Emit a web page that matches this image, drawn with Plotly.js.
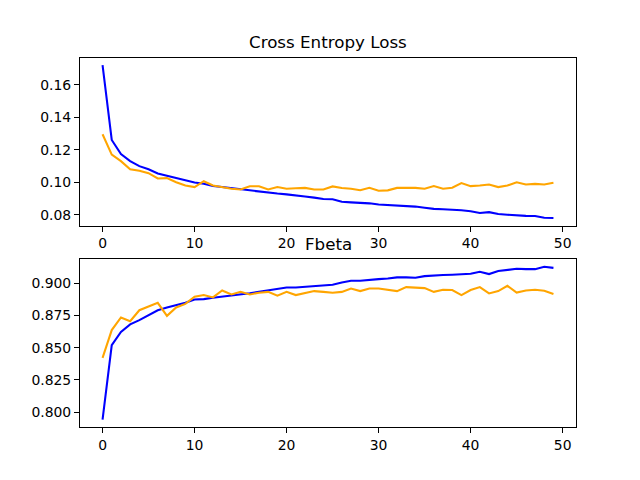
<!DOCTYPE html>
<html>
<head>
<meta charset="utf-8">
<script src="https://cdn.plot.ly/plotly-3.0.1.min.js"></script>
<style>html,body{margin:0;padding:0;background:#fff}#chart{width:640px;height:480px}</style>
</head>
<body>
<div id="chart"></div>
<script>
const epochs = Array.from({length: 50}, (_, i) => i);
const lossTrain = [0.172,0.126,0.1173,0.113,0.1099,0.108,0.1054,0.104,0.1025,0.1012,
  0.0998,0.099,0.0977,0.097,0.0963,0.0955,0.095,0.094,0.0937,0.093,
  0.0925,0.092,0.0912,0.0905,0.0897,0.0895,0.0880,0.0876,0.0874,0.0870,
  0.0863,0.0860,0.0855,0.0853,0.0850,0.0843,0.0836,0.0834,0.0832,0.0827,
  0.0821,0.0811,0.0816,0.0804,0.0800,0.0795,0.0793,0.0792,0.0781,0.0780];
const lossTest = [0.1295,0.117,0.113,0.108,0.107,0.1056,0.1023,0.1025,0.100,0.098,
  0.097,0.1006,0.098,0.097,0.096,0.0955,0.0975,0.0975,0.0955,0.097,
  0.096,0.0963,0.0965,0.0955,0.0955,0.0974,0.0964,0.096,0.0951,0.0966,
  0.0948,0.095,0.0965,0.0965,0.0965,0.096,0.0976,0.096,0.0966,0.0995,
  0.0976,0.098,0.0986,0.097,0.098,0.100,0.0986,0.099,0.0986,0.0997];
const fbetaTrain = [0.7943,0.852,0.8622,0.868,0.8713,0.8752,0.879,0.8811,0.8829,0.8847,
  0.8873,0.8876,0.8886,0.8894,0.8907,0.8915,0.8922,0.8933,0.8943,0.8953,
  0.8966,0.8966,0.8971,0.8977,0.8984,0.8987,0.9005,0.9018,0.9018,0.9026,
  0.9031,0.9036,0.9044,0.9044,0.9042,0.9054,0.906,0.9062,0.9065,0.9067,
  0.9072,0.9088,0.907,0.9093,0.9101,0.9111,0.9108,0.9108,0.9126,0.9118];
const fbetaTest = [0.8421,0.8636,0.8734,0.8705,0.879,0.8816,0.8847,0.8746,0.8811,0.8839,
  0.8894,0.8907,0.8889,0.8943,0.8912,0.8932,0.8912,0.8925,0.8932,0.8902,
  0.8932,0.8907,0.892,0.8938,0.8932,0.8925,0.8932,0.8958,0.8938,0.8958,
  0.8958,0.8946,0.8938,0.8969,0.8964,0.8961,0.8932,0.8948,0.8946,0.8907,
  0.8946,0.8969,0.892,0.8938,0.8979,0.8927,0.8943,0.8948,0.894,0.8915];
const titles = ['Cross Entropy Loss', 'Fbeta'];

const lw = 2.08;
const traces = [
  {x: epochs, y: lossTrain, xaxis: 'x', yaxis: 'y', mode: 'lines', line: {color: 'blue', width: lw}, name: 'train'},
  {x: epochs, y: lossTest, xaxis: 'x', yaxis: 'y', mode: 'lines', line: {color: 'orange', width: lw}, name: 'test'},
  {x: epochs, y: fbetaTrain, xaxis: 'x2', yaxis: 'y2', mode: 'lines', line: {color: 'blue', width: lw}, name: 'train'},
  {x: epochs, y: fbetaTest, xaxis: 'x2', yaxis: 'y2', mode: 'lines', line: {color: 'orange', width: lw}, name: 'test'}
];

const font = {family: 'DejaVu Sans', size: 13.9, color: '#000'};
function ax(extra) {
  return Object.assign({
    showline: true, mirror: true, linecolor: '#000', linewidth: 1.1,
    ticks: 'outside', ticklen: 4.9, tickwidth: 1.1, tickcolor: '#000',
    showgrid: false, zeroline: false, tickfont: font, fixedrange: true
  }, extra);
}

const layout = {
  width: 640, height: 480,
  margin: {l: 0, r: 0, t: 0, b: 0},
  paper_bgcolor: '#fff', plot_bgcolor: '#fff',
  showlegend: false,
  font: font,
  xaxis: ax({domain: [0.125, 0.9], range: [-2.45, 51.45], dtick: 10, tick0: 0, anchor: 'y'}),
  yaxis: ax({domain: [0.53, 0.88], range: [0.0733, 0.1767], dtick: 0.02, tick0: 0, tickformat: '.2f', anchor: 'x'}),
  xaxis2: ax({domain: [0.125, 0.9], range: [-2.45, 51.45], dtick: 10, tick0: 0, anchor: 'y2'}),
  yaxis2: ax({domain: [0.11, 0.46], range: [0.7884, 0.9185], dtick: 0.025, tick0: 0, tickformat: '.3f', anchor: 'x2'}),
  annotations: [
    {text: titles[0], xref: 'paper', yref: 'paper', x: 0.5125, y: 0.887, xanchor: 'center', yanchor: 'bottom', showarrow: false, font: {family: 'DejaVu Sans', size: 16.7, color: '#000'}},
    {text: titles[1], xref: 'paper', yref: 'paper', x: 0.5125, y: 0.467, xanchor: 'center', yanchor: 'bottom', showarrow: false, font: {family: 'DejaVu Sans', size: 16.7, color: '#000'}}
  ]
};

Plotly.newPlot('chart', traces, layout, {staticPlot: true, displayModeBar: false});
</script>
</body>
</html>
